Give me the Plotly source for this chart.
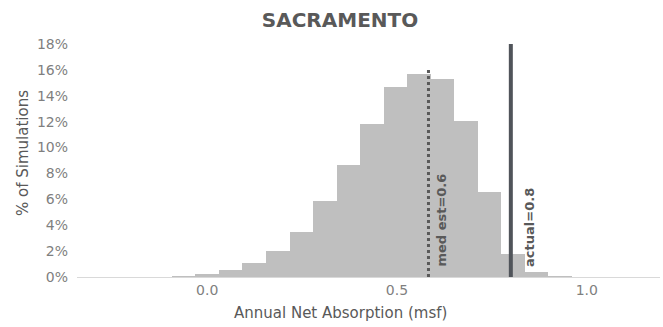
import plotly.graph_objects as go

# histogram bins (bin centre, msf) and share of simulations
bin_centers = [-0.062, 0.0, 0.062, 0.124, 0.186, 0.248, 0.31, 0.372, 0.434,
               0.496, 0.558, 0.62, 0.682, 0.744, 0.806, 0.868, 0.93]
pct_sims = [0.0005, 0.002, 0.0054, 0.011, 0.020, 0.035, 0.059, 0.0866, 0.118,
            0.1465, 0.157, 0.153, 0.1207, 0.0655, 0.018, 0.0036, 0.0005]
bin_width = 0.062

med_est = 0.583
med_top = 0.16
actual = 0.80
actual_top = 0.18

x_ticks = [0.0, 0.5, 1.0]
x_tick_labels = ["0.0", "0.5", "1.0"]

FONT = "DejaVu Sans"
W, H = 663, 327
L, R, T, B = 77, 3, 44, 50
pw, ph = W - L - R, H - T - B

fig = go.Figure()
fig.add_trace(go.Bar(
    x=bin_centers, y=pct_sims, width=bin_width,
    marker=dict(color="#BFBFBF", line=dict(width=0)),
    hoverinfo="skip"
))
fig.add_trace(go.Scatter(
    x=[med_est, med_est], y=[0, med_top], mode="lines",
    line=dict(color="#595959", width=3, dash="dot")
))
fig.add_trace(go.Scatter(
    x=[actual, actual], y=[0, actual_top], mode="lines",
    line=dict(color="#50545a", width=4)
))

label_font = dict(family=FONT, size=13, color="#595959", weight="bold")
fig.add_annotation(x=med_est, y=0.0065, xref="x", yref="y", text="med est=0.6",
                   textangle=-90, showarrow=False, xanchor="center", yanchor="bottom",
                   xshift=13, font=label_font)
fig.add_annotation(x=actual, y=0.0065, xref="x", yref="y", text="actual=0.8",
                   textangle=-90, showarrow=False, xanchor="center", yanchor="bottom",
                   xshift=18, font=label_font)

# axis titles placed as in the original (centred on chart, not plot area)
fig.add_annotation(x=(340 - L) / pw, y=-(313 - (H - B)) / ph, xref="paper", yref="paper",
                   text="Annual Net Absorption (msf)", showarrow=False,
                   xanchor="center", yanchor="middle",
                   font=dict(family=FONT, size=15, color="#595959"))
fig.add_annotation(x=(23 - L) / pw, y=((H - B) - 153) / ph, xref="paper", yref="paper",
                   text="% of Simulations", showarrow=False, textangle=-90,
                   xanchor="center", yanchor="middle",
                   font=dict(family=FONT, size=15, color="#595959"))

fig.update_layout(
    width=W, height=H,
    margin=dict(l=L, r=R, t=T, b=B),
    paper_bgcolor="white", plot_bgcolor="white",
    showlegend=False,
    bargap=0,
    title=dict(text="SACRAMENTO", x=340 / W, xref="container", xanchor="center",
               y=1 - 20 / H, yref="container", yanchor="middle",
               font=dict(family=FONT, size=20, color="#595959", weight="bold")),
    xaxis=dict(range=[-0.343, 1.193], tickvals=x_ticks, ticktext=x_tick_labels,
               showgrid=False, zeroline=False, showline=True, linecolor="#D9D9D9",
               linewidth=1, ticks="", tickfont=dict(family=FONT, size=14, color="#7F7F7F")),
    yaxis=dict(range=[0, 0.18], dtick=0.02, tickformat=".0%", showgrid=False,
               zeroline=False, showline=False, ticks="", ticklabelstandoff=8,
               tickfont=dict(family=FONT, size=14, color="#7F7F7F")),
)

fig.write_html("out.html", config={"displayModeBar": False},
               post_script="document.body.style.margin='0';")
